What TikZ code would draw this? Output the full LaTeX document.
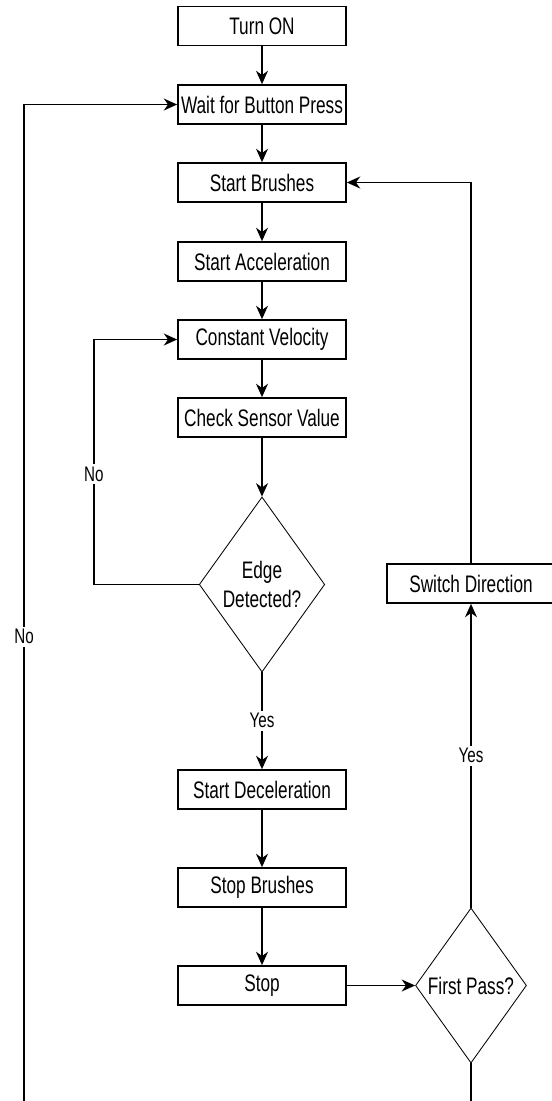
\documentclass[tikz,border=0pt]{standalone}
\usepackage{fontspec}
\setmainfont{Liberation Sans}[FakeStretch=0.72]
\usepackage{tikz}
\usetikzlibrary{shapes.geometric, arrows.meta, positioning}

\begin{document}
\begin{tikzpicture}[
    stepbox/.style={rectangle, draw=black, line width=1.2pt, fill=white, minimum width=4.2cm, minimum height=0.975cm, inner sep=0pt, font=\fontsize{17}{21}\selectfont},
    decision/.style={diamond, draw=black, line width=0.6pt, fill=white, inner sep=0pt, align=center, font=\fontsize{17}{21}\selectfont},
    arrow/.style={-{Stealth[length=9.5pt, width=8.5pt, inset=3pt]}, line width=1.1pt},
    lbl/.style={fill=white, inner sep=2pt, font=\fontsize{15}{18}\selectfont}
]
    \useasboundingbox (0,0) rectangle (13.8,-27.525);
    \clip (0,0) rectangle (13.8,-27.525);

    % Main column
    \node[stepbox] (turnon) at (6.55,-0.65) {Turn ON};
    \node[stepbox] (wait) at (6.55,-2.6125) {Wait for Button Press};
    \node[stepbox] (brushes) at (6.55,-4.5625) {Start Brushes};
    \node[stepbox] (accel) at (6.55,-6.5375) {Start Acceleration};
    \node[stepbox] (const) at (6.55,-8.4875) {Constant Velocity};
    \node[stepbox] (check) at (6.55,-10.4375) {Check Sensor Value};
    \node[decision, minimum width=3.125cm, minimum height=4.375cm] (edge) at (6.55,-14.6125) {Edge\\Detected?};
    \node[stepbox] (decel) at (6.55,-19.7375) {Start Deceleration};
    \node[stepbox] (stopbr) at (6.55,-22.1875) {Stop Brushes};
    \node[stepbox] (stop) at (6.55,-24.6375) {Stop};

    % Return column
    \node[decision, minimum width=2.775cm, minimum height=3.875cm] (first) at (11.775,-24.6375) {First Pass?};
    \node[stepbox] (switch) at (11.775,-14.5875) {Switch Direction};
    \coordinate (loopend) at (0.6,-28.2);

    % Arrows
    \draw[arrow] (turnon) -- (wait);
    \draw[arrow] (wait) -- (brushes);
    \draw[arrow] (brushes) -- (accel);
    \draw[arrow] (accel) -- (const);
    \draw[arrow] (const) -- (check);
    \draw[arrow] (check) -- (edge);
    \draw[arrow] (edge.west) -- ++(-2.625,0) |- node[lbl, pos=0.225] {No} (const.west);
    \draw[arrow] (edge) -- node[lbl] {Yes} (decel);
    \draw[arrow] (decel) -- (stopbr);
    \draw[arrow] (stopbr) -- (stop);
    \draw[arrow] (stop) -- (first);
    \draw[arrow] (first) -- node[lbl] {Yes} (switch);
    \draw[arrow] (switch.north) |- (brushes.east);
    \draw[arrow] (first.south) |- (loopend) |- node[lbl, pos=0.24] {No} (wait.west);
\end{tikzpicture}
\end{document}
